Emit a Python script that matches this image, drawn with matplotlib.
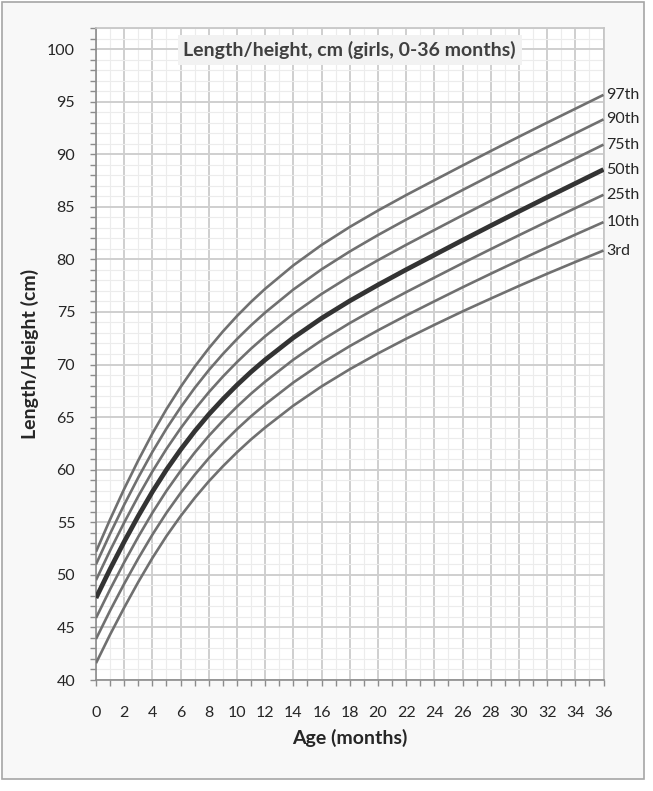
import numpy as np
import matplotlib.pyplot as plt
from matplotlib.ticker import MultipleLocator
from matplotlib.patches import Rectangle

plt.rcParams['font.family'] = ['Lato', 'DejaVu Sans']

# ----------------------------
# Data
# ----------------------------
ages = [0, 1, 2, 3, 4, 5, 6, 7, 8, 9, 10, 11, 12, 14, 16, 18, 20, 22, 24, 26, 28, 30, 32, 34, 36]

p3 = [41.6, 44.32, 46.89, 49.32, 51.6, 53.69, 55.58, 57.31, 58.89, 60.32, 61.65, 62.88, 64.01,
      66.09, 67.92, 69.55, 71.05, 72.45, 73.77, 75.05, 76.27, 77.47, 78.63, 79.75, 80.84]
p10 = [43.9, 46.6, 49.15, 51.56, 53.82, 55.9, 57.78, 59.51, 61.09, 62.52, 63.85, 65.08, 66.21,
       68.29, 70.12, 71.75, 73.25, 74.66, 76.01, 77.34, 78.63, 79.9, 81.14, 82.35, 83.54]
p25 = [45.9, 48.62, 51.19, 53.62, 55.9, 57.99, 59.88, 61.62, 63.21, 64.65, 65.99, 67.23, 68.37,
       70.46, 72.3, 73.94, 75.45, 76.88, 78.26, 79.63, 80.97, 82.29, 83.59, 84.87, 86.14]
p50 = [47.8, 50.55, 53.15, 55.6, 57.9, 60.0, 61.9, 63.65, 65.25, 66.7, 68.05, 69.3, 70.45,
       72.55, 74.4, 76.05, 77.57, 79.02, 80.42, 81.82, 83.2, 84.56, 85.9, 87.22, 88.54]
p75 = [49.5, 52.31, 54.97, 57.48, 59.83, 61.98, 63.93, 65.72, 67.36, 68.85, 70.23, 71.51, 72.69,
       74.83, 76.71, 78.38, 79.92, 81.38, 82.79, 84.19, 85.57, 86.93, 88.27, 89.59, 90.91]
p90 = [51.0, 53.91, 56.67, 59.26, 61.69, 63.91, 65.92, 67.77, 69.46, 71.0, 72.42, 73.73, 74.94,
       77.13, 79.05, 80.75, 82.31, 83.78, 85.19, 86.59, 87.97, 89.33, 90.67, 91.99, 93.31]
p97 = [52.2, 55.27, 58.17, 60.89, 63.44, 65.76, 67.86, 69.79, 71.54, 73.14, 74.61, 75.96, 77.2,
       79.43, 81.37, 83.08, 84.64, 86.11, 87.52, 88.92, 90.3, 91.66, 93.0, 94.32, 95.64]

curves = [p3, p10, p25, p50, p75, p90, p97]
labels = ["3rd", "10th", "25th", "50th", "75th", "90th", "97th"]

title = "Length/height, cm (girls, 0-36 months)"

# ----------------------------
# Figure
# ----------------------------
W, H = 653, 791
fig = plt.figure(figsize=(W / 100, H / 100), dpi=100)
fig.patch.set_facecolor("white")
fig.patches.append(Rectangle((2 / W, 1 - 779 / H), 642 / W, 777 / H,
                             transform=fig.transFigure, facecolor="#f8f8f8",
                             edgecolor="#a6a6a6", lw=1.2, zorder=-10))

ax = fig.add_axes([96 / W, 1 - 680 / H, 507.5 / W, 652 / H])
ax.set_facecolor("white")
ax.set_xlim(0, 36)
ax.set_ylim(40, 102)

ax.xaxis.set_major_locator(MultipleLocator(2))
ax.xaxis.set_minor_locator(MultipleLocator(1))
ax.yaxis.set_major_locator(MultipleLocator(5))
ax.yaxis.set_minor_locator(MultipleLocator(1))
ax.grid(which="major", color="#cfcfcf", lw=1.4)
ax.grid(which="minor", color="#ececec", lw=0.8)
ax.set_axisbelow(True)

for side in ["top", "right"]:
    ax.spines[side].set_color("#c4c4c4")
    ax.spines[side].set_linewidth(1.2)
for side in ["left", "bottom"]:
    ax.spines[side].set_color("#8c8c8c")
    ax.spines[side].set_linewidth(1.2)

ax.tick_params(which="both", direction="out", length=4, width=1, color="#8c8c8c")
ax.tick_params(axis="x", which="major", pad=15, labelsize=11.5, labelcolor="#262626")
ax.tick_params(axis="y", which="major", pad=11, labelsize=11.5, labelcolor="#262626")

for vals, lab in zip(curves, labels):
    thick = lab == "50th"
    ax.plot(ages, vals, color="#333333" if thick else "#707070",
            lw=3.4 if thick else 1.9, solid_capstyle="butt", zorder=3)
    ax.text(36.2, vals[-1], lab, ha="left", va="center", fontsize=11.5,
            color="#262626", clip_on=False)

ax.text(18, 99.9, title, ha="center", va="center", fontsize=14, fontweight="bold",
        color="#404040", zorder=5,
        bbox=dict(boxstyle="square,pad=0.3", fc="#f2f2f2", ec="none"))

ax.set_xlabel("Age (months)", fontsize=14, fontweight="bold", color="#262626", labelpad=6)
ax.set_ylabel("Length/Height (cm)", fontsize=14, fontweight="bold", color="#262626", labelpad=6)

fig.savefig("out.png", dpi=100)
